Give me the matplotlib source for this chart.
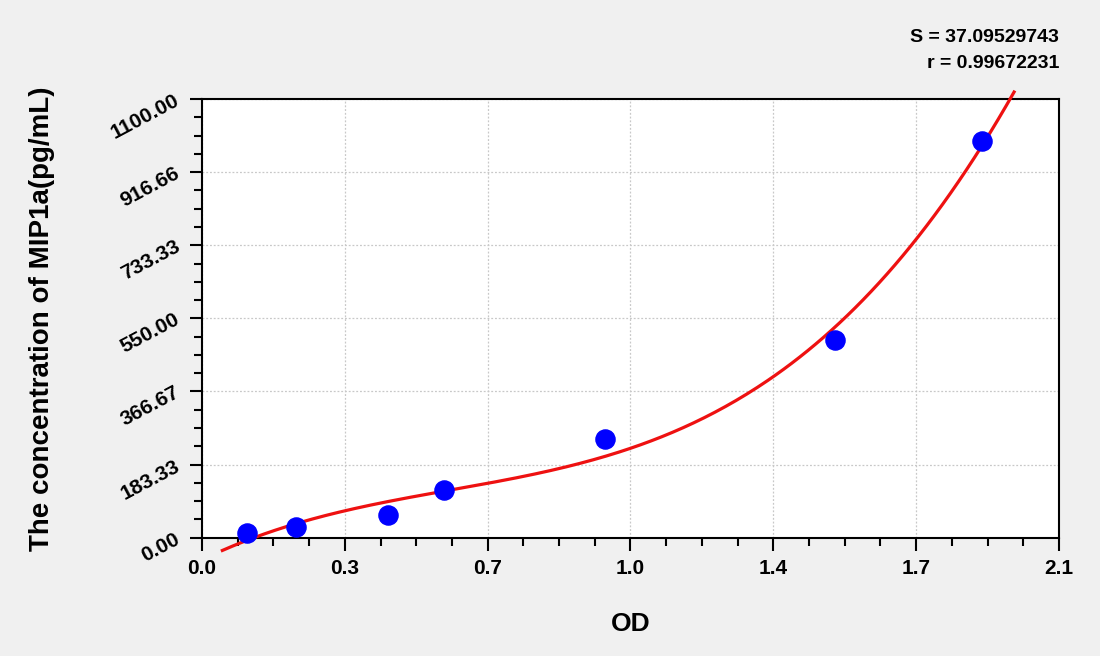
import numpy as np
import matplotlib
matplotlib.use("Agg")
import matplotlib.pyplot as plt
from matplotlib.ticker import MultipleLocator, FixedLocator

# standard points
od = [0.111, 0.230, 0.457, 0.594, 0.987, 1.551, 1.911]
conc = [12.5, 26.0, 57.0, 119.5, 246.5, 494.6, 994.7]

# fit range of the red curve
curve_start = 0.05
curve_end = 1.99

xticks = [0.0, 0.35, 0.70, 1.05, 1.40, 1.75, 2.10]
xlabels = ["0.0", "0.3", "0.7", "1.0", "1.4", "1.7", "2.1"]
yticks = [0.0, 183.33, 366.67, 550.0, 733.33, 916.66, 1100.0]
ylabels = ["0.00", "183.33", "366.67", "550.00", "733.33", "916.66", "1100.00"]

s_text = "S = 37.09529743"
r_text = "r = 0.99672231"

plt.rcParams["font.family"] = ["Liberation Sans", "DejaVu Sans"]
plt.rcParams["font.weight"] = "bold"

fig = plt.figure(figsize=(11, 6.56), dpi=100, facecolor="#f0f0f0")
ax = fig.add_axes([0.1836, 0.1803, 0.9627 - 0.1836, 0.849 - 0.1803])
ax.set_facecolor("white")

coef = np.polyfit(od, conc, 3)
xs = np.linspace(curve_start, curve_end, 300)
ax.plot(xs, np.polyval(coef, xs), color="#ee1111", lw=2.3, zorder=3, clip_on=False)
ax.scatter(od, conc, s=190, color="#0000ff", zorder=4, clip_on=False)

ax.set_xlim(0, 2.1)
ax.set_ylim(0, 1100)
ax.xaxis.set_major_locator(FixedLocator(xticks))
ax.yaxis.set_major_locator(FixedLocator(yticks))
ax.xaxis.set_minor_locator(MultipleLocator(0.0875))
ax.yaxis.set_minor_locator(MultipleLocator(183.333 / 4))
ax.set_xticklabels(xlabels, fontsize=15, fontweight="bold")
ax.set_yticklabels(ylabels, fontsize=15, fontweight="bold",
                   rotation=28, ha="right", va="center", rotation_mode="anchor")

ax.tick_params(which="major", direction="out", length=9, width=1.5, pad=6)
ax.tick_params(which="minor", direction="out", length=6, width=1.5)
ax.tick_params(axis="y", which="major", pad=8)
for sp in ax.spines.values():
    sp.set_linewidth(1.5)

ax.grid(True, which="major", color="#c8c8c8", linestyle=(0, (1.5, 1.5)), lw=0.9)
ax.set_axisbelow(True)

ax.set_xlabel("OD", fontsize=19, fontweight="bold")
ax.xaxis.set_label_coords(0.5, -0.169)
ax.set_ylabel("The concentration of MIP1a(pg/mL)", fontsize=20, fontweight="bold")
ax.yaxis.set_label_coords(-0.171, 0.5)

fig.text(1059 / 1100, 1 - 38 / 656, s_text, ha="right", va="center", fontsize=14, fontweight="bold")
fig.text(1059 / 1100, 1 - 64 / 656, r_text, ha="right", va="center", fontsize=14, fontweight="bold")

fig.savefig("out.png", dpi=100, facecolor=fig.get_facecolor())
